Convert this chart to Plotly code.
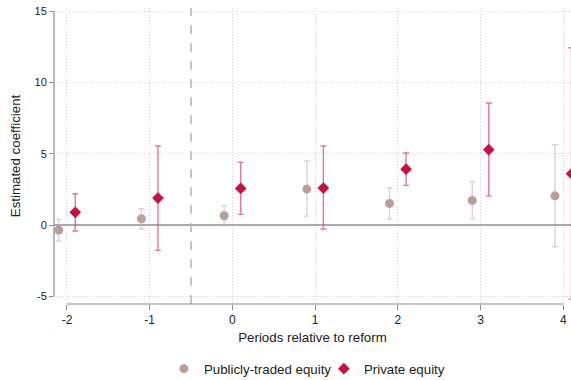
import plotly.graph_objects as go

# Event-time periods relative to the reform
periods = [-2, -1, 0, 1, 2, 3, 4]

# Publicly-traded equity: point estimates and 95% CI bounds
pub_coef = [-0.35, 0.44, 0.65, 2.52, 1.52, 1.73, 2.05]
pub_hi = [0.40, 1.14, 1.38, 4.49, 2.60, 3.04, 5.63]
pub_lo = [-1.12, -0.28, -0.05, 0.63, 0.40, 0.42, -1.52]

# Private equity: point estimates and 95% CI bounds
pri_coef = [0.89, 1.89, 2.57, 2.59, 3.92, 5.28, 3.60]
pri_hi = [2.20, 5.54, 4.39, 5.54, 5.05, 8.55, 12.43]
pri_lo = [-0.42, -1.77, 0.75, -0.28, 2.78, 2.03, -5.19]

x_ticks = [-2, -1, 0, 1, 2, 3, 4]
y_ticks = [-5, 0, 5, 10, 15]

offset = 0.1
pub_x = [p - offset for p in periods]
pri_x = [p + offset for p in periods]

font_family = "Liberation Sans, Arial, sans-serif"
axis_color = "#8a8a8a"
grid_color = "#cfcfcf"

fig = go.Figure()

fig.add_trace(go.Scatter(
    x=pub_x, y=pub_coef, mode="markers", name="Publicly-traded equity",
    marker=dict(symbol="circle", size=9, color="#BC9E96"),
    error_y=dict(type="data", symmetric=False,
                 array=[h - c for h, c in zip(pub_hi, pub_coef)],
                 arrayminus=[c - l for c, l in zip(pub_coef, pub_lo)],
                 color="rgba(200,170,165,0.55)", thickness=1.4, width=3),
))

fig.add_trace(go.Scatter(
    x=pri_x, y=pri_coef, mode="markers", name="Private equity",
    marker=dict(symbol="diamond", size=9, color="#C8103E"),
    error_y=dict(type="data", symmetric=False,
                 array=[h - c for h, c in zip(pri_hi, pri_coef)],
                 arrayminus=[c - l for c, l in zip(pri_coef, pri_lo)],
                 color="rgba(220,60,100,0.7)", thickness=1.4, width=3),
))

# Reform timing marker
fig.add_shape(type="line", xref="x", yref="paper", x0=-0.5, x1=-0.5, y0=0, y1=1,
              line=dict(color="#a8a8a8", width=1.3, dash="dash"), layer="below")

# Axis lines spanning only the labelled ranges
fig.add_shape(type="line", xref="paper", yref="y", x0=0, x1=0, y0=-5, y1=15,
              line=dict(color=axis_color, width=1.2))
fig.add_shape(type="line", xref="x", yref="paper", x0=-2, x1=4, y0=0, y1=0,
              line=dict(color=axis_color, width=1.2))

fig.update_layout(
    width=571, height=380,
    margin=dict(l=54, r=0, t=8, b=76, autoexpand=False),
    plot_bgcolor="white", paper_bgcolor="white",
    font=dict(family=font_family, size=12, color="#222"),
    showlegend=True,
    legend=dict(orientation="h", xref="container", yref="container",
                x=0.287, xanchor="left", y=0.029, yanchor="middle",
                font=dict(size=13.3, color="#222"), itemwidth=30,
                entrywidth=115, entrywidthmode="pixels"),
    xaxis=dict(
        range=[-2.157, 4.094], tickvals=x_ticks, ticktext=[str(v) for v in x_ticks],
        showline=False, zeroline=False,
        showgrid=True, gridcolor=grid_color, griddash="1px,2px", gridwidth=1,
        ticks="outside", ticklen=5, tickcolor=axis_color, tickwidth=1.2,
        tickfont=dict(size=12, color="#222"),
        title=dict(text="Periods relative to reform", font=dict(size=13.3, color="#222"), standoff=6),
    ),
    yaxis=dict(
        range=[-5.53, 15.21], tickvals=y_ticks, ticktext=[str(v) for v in y_ticks],
        showline=False,
        zeroline=True, zerolinecolor="#aaaaaa", zerolinewidth=1.5,
        showgrid=True, gridcolor=grid_color, griddash="1px,2px", gridwidth=1,
        ticks="outside", ticklen=4, tickcolor=axis_color, tickwidth=1.2,
        tickfont=dict(size=11, color="#222"),
        title=dict(text="Estimated coefficient", font=dict(size=13.3, color="#222"), standoff=10),
    ),
)

fig.write_html("out.html")
